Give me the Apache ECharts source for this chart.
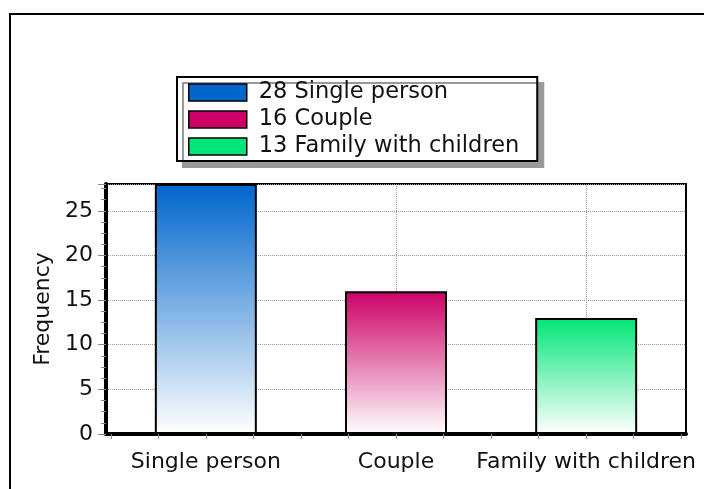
<!DOCTYPE html>
<html>
<head>
<meta charset="utf-8">
<script src="https://cdn.jsdelivr.net/npm/echarts@6/dist/echarts.min.js"></script>
<style>
  html, body { margin: 0; padding: 0; background: #fff; }
  #chart { width: 704px; height: 489px; }
</style>
</head>
<body>
<div id="chart"></div>
<script>
// data
var categories = ['Single person', 'Couple', 'Family with children'];
var values = [28, 16, 13];
var positions = [1, 2, 3];
var colors = ['#0066CC', '#CC0066', '#00E676'];
var yTicks = { min: 0, max: 28, interval: 5 };
var xTickValues = [0.5, 0.75, 1, 1.25, 1.5, 1.75, 2, 2.25, 2.5, 2.75, 3, 3.25, 3.5];

var font = 'DejaVu Sans';
var myChart = echarts.init(document.getElementById('chart'));

var series = categories.map(function (cat, i) {
  return {
    name: values[i] + ' ' + cat,
    type: 'bar',
    barWidth: 102,
    barGap: '-100%',
    data: [[positions[i], values[i]]],
    itemStyle: {
      color: new echarts.graphic.LinearGradient(0, 0, 0, 1, [
        { offset: 0, color: colors[i] },
        { offset: 1, color: '#ffffff' }
      ]),
      borderColor: '#000',
      borderWidth: 2
    }
  };
});

myChart.setOption({
  animation: false,
  graphic: [{
    type: 'rect',
    shape: { x: 10, y: 14, width: 800, height: 600 },
    style: { fill: 'none', stroke: '#000', lineWidth: 2 },
    silent: true
  }],
  legend: {
    orient: 'vertical',
    left: 177,
    top: 77,
    padding: [4, 18, 3, 11],
    itemWidth: 58,
    itemHeight: 17,
    itemGap: 4,
    backgroundColor: '#fff',
    borderColor: '#000',
    borderWidth: 2,
    shadowColor: '#999',
    shadowBlur: 0,
    shadowOffsetX: 6,
    shadowOffsetY: 6,
    textStyle: { fontFamily: font, fontSize: 22.5, lineHeight: 22, color: '#111', padding: [0, 0, 0, 7] },
    data: series.map(function (s, i) {
      return {
        name: s.name,
        icon: 'rect',
        itemStyle: { color: colors[i], borderColor: '#000', borderWidth: 1.5 }
      };
    })
  },
  grid: {
    left: 106, top: 184, right: 18, bottom: 55,
    show: true, borderColor: '#000', borderWidth: 2
  },
  xAxis: [{
    type: 'value',
    min: 0.475,
    max: 3.525,
    axisLine: { lineStyle: { color: '#000', width: 4 } },
    axisTick: { customValues: xTickValues, length: 5, lineStyle: { color: '#888' } },
    axisLabel: {
      customValues: positions,
      formatter: function (v) { return categories[positions.indexOf(v)]; },
      fontFamily: font, fontSize: 22, color: '#111', margin: 17
    },
    splitLine: { show: false }
  }, {
    type: 'value',
    min: 0.475,
    max: 3.525,
    position: 'bottom',
    axisLine: { show: false },
    axisTick: { show: false, customValues: positions },
    axisLabel: { show: false, customValues: positions },
    splitLine: { show: true, lineStyle: { color: '#999', type: 'dotted', width: 1 } }
  }],
  yAxis: {
    type: 'value',
    min: yTicks.min,
    max: yTicks.max,
    interval: yTicks.interval,
    name: 'Frequency',
    nameLocation: 'middle',
    nameRotate: 90,
    nameGap: 51,
    nameTextStyle: { fontFamily: font, fontSize: 22, color: '#111' },
    axisLine: { show: true, lineStyle: { color: '#000', width: 4 } },
    axisTick: { show: true, length: 8, lineStyle: { color: '#888' } },
    minorTick: { show: true, splitNumber: 4, length: 5, lineStyle: { color: '#888' } },
    axisLabel: { fontFamily: font, fontSize: 22, color: '#111', margin: 13, showMaxLabel: false },
    splitLine: { show: true, lineStyle: { color: '#999', type: 'dotted', width: 1 } }
  },
  series: series
});
</script>
</body>
</html>
